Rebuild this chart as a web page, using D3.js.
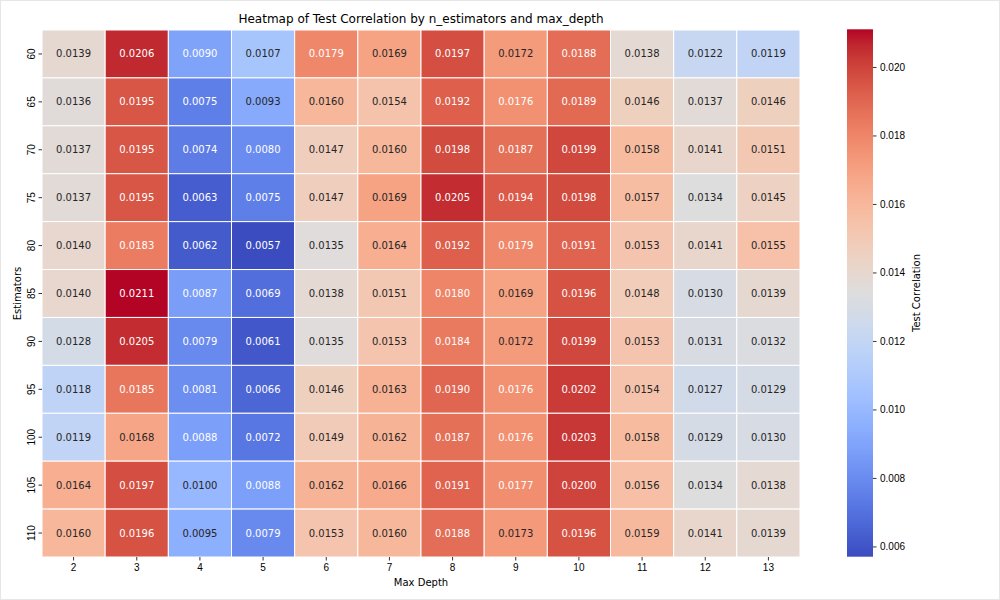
<!DOCTYPE html>
<html>
<head>
<meta charset="utf-8">
<script src="https://cdn.jsdelivr.net/npm/d3@7"></script>
<style>
  body { margin: 0; background: #fff; }
  svg { font-family: "DejaVu Sans", sans-serif; }
</style>
</head>
<body>
<svg id="chart" width="1000" height="600"></svg>
<script>
const depths = [2, 3, 4, 5, 6, 7, 8, 9, 10, 11, 12, 13];
const estimators = [60, 65, 70, 75, 80, 85, 90, 95, 100, 105, 110];
const values = [
    [0.0139, 0.0206, 0.0090, 0.0107, 0.0179, 0.0169, 0.0197, 0.0172, 0.0188, 0.0138, 0.0122, 0.0119],
    [0.0136, 0.0195, 0.0075, 0.0093, 0.0160, 0.0154, 0.0192, 0.0176, 0.0189, 0.0146, 0.0137, 0.0146],
    [0.0137, 0.0195, 0.0074, 0.0080, 0.0147, 0.0160, 0.0198, 0.0187, 0.0199, 0.0158, 0.0141, 0.0151],
    [0.0137, 0.0195, 0.0063, 0.0075, 0.0147, 0.0169, 0.0205, 0.0194, 0.0198, 0.0157, 0.0134, 0.0145],
    [0.0140, 0.0183, 0.0062, 0.0057, 0.0135, 0.0164, 0.0192, 0.0179, 0.0191, 0.0153, 0.0141, 0.0155],
    [0.0140, 0.0211, 0.0087, 0.0069, 0.0138, 0.0151, 0.0180, 0.0169, 0.0196, 0.0148, 0.0130, 0.0139],
    [0.0128, 0.0205, 0.0079, 0.0061, 0.0135, 0.0153, 0.0184, 0.0172, 0.0199, 0.0153, 0.0131, 0.0132],
    [0.0118, 0.0185, 0.0081, 0.0066, 0.0146, 0.0163, 0.0190, 0.0176, 0.0202, 0.0154, 0.0127, 0.0129],
    [0.0119, 0.0168, 0.0088, 0.0072, 0.0149, 0.0162, 0.0187, 0.0176, 0.0203, 0.0158, 0.0129, 0.0130],
    [0.0164, 0.0197, 0.0100, 0.0088, 0.0162, 0.0166, 0.0191, 0.0177, 0.0200, 0.0156, 0.0134, 0.0138],
    [0.0160, 0.0196, 0.0095, 0.0079, 0.0153, 0.0160, 0.0188, 0.0173, 0.0196, 0.0159, 0.0141, 0.0139]
];
const cbarTicks = [0.006, 0.008, 0.010, 0.012, 0.014, 0.016, 0.018, 0.020];

// matplotlib coolwarm, 33 evenly spaced samples
const coolwarm = [
    "#3b4cc0", "#445acc", "#4d68d7", "#5775e1", "#6282ea", "#6c8ef1", "#779af7", "#82a5fb",
    "#8db0fe", "#98b9ff", "#a3c2fe", "#aec9fc", "#b8d0f9", "#c2d5f4", "#ccd9ee", "#d5dbe5",
    "#dddddd", "#e5d8d1", "#ecd3c5", "#f1ccb9", "#f5c4ad", "#f7bba0", "#f7b194", "#f7a688",
    "#f49a7b", "#f18d6f", "#ec7f63", "#e57058", "#de614d", "#d55042", "#cb3e38", "#c0282f",
    "#b40426"
];

const svg = d3.select("#chart");
const plotLeft = 42, plotRight = 800, plotTop = 30, plotBottom = 557;

const cells = [];
values.forEach((row, i) => row.forEach((v, j) => cells.push({ est: estimators[i], depth: depths[j], v })));

const ext = d3.extent(cells, d => d.v);
const t = d3.scaleLinear().domain(ext).range([0, 1]);
const colorAt = d3.scaleLinear()
    .domain(coolwarm.map((c, i) => i / (coolwarm.length - 1)))
    .range(coolwarm)
    .interpolate(d3.interpolateRgb)
    .clamp(true);
const color = v => colorAt(t(v));

const x = d3.scaleBand().domain(depths).range([plotLeft, plotRight]);
const y = d3.scaleBand().domain(estimators).range([plotTop, plotBottom]);

function luminance(c) {
    const rgb = d3.rgb(c);
    const lin = [rgb.r, rgb.g, rgb.b].map(u => {
        u /= 255;
        return u <= 0.03928 ? u / 12.92 : Math.pow((u + 0.055) / 1.055, 2.4);
    });
    return 0.2126 * lin[0] + 0.7152 * lin[1] + 0.0722 * lin[2];
}

// frame
svg.append("rect")
    .attr("x", 0.5).attr("y", 0.5).attr("width", 999).attr("height", 599)
    .attr("fill", "none").attr("stroke", "#e6e6e6");

svg.selectAll(".cell")
    .data(cells)
    .enter().append("rect")
    .attr("class", "cell")
    .attr("x", d => x(d.depth))
    .attr("y", d => y(d.est))
    .attr("width", x.bandwidth())
    .attr("height", y.bandwidth())
    .attr("fill", d => color(d.v))
    .attr("stroke", "white")
    .attr("stroke-width", 1);

svg.selectAll(".annot")
    .data(cells)
    .enter().append("text")
    .attr("class", "annot")
    .attr("x", d => x(d.depth) + x.bandwidth() / 2)
    .attr("y", d => y(d.est) + y.bandwidth() / 2)
    .attr("dy", "0.35em")
    .attr("text-anchor", "middle")
    .style("font-size", "10px")
    .attr("fill", d => luminance(color(d.v)) > 0.408 ? "#262626" : "#ffffff")
    .text(d => d.v.toFixed(4));

// axes
const xAxis = svg.append("g")
    .attr("transform", `translate(0,${plotBottom})`)
    .call(d3.axisBottom(x).tickSize(3.5).tickPadding(3.5));
xAxis.select(".domain").remove();

const yAxis = svg.append("g")
    .attr("transform", `translate(${plotLeft},0)`)
    .call(d3.axisLeft(y).tickSize(3.5).tickPadding(3.5));
yAxis.select(".domain").remove();
yAxis.selectAll("text")
    .attr("text-anchor", "middle")
    .attr("x", 0).attr("y", 0).attr("dy", "0.35em")
    .attr("transform", "translate(-10.5,0) rotate(-90)");

[xAxis, yAxis].forEach(a => {
    a.selectAll("text").style("font-size", "10px").attr("fill", "#000");
    a.selectAll("line").attr("stroke", "#000").attr("stroke-width", 0.8);
});

svg.append("text")
    .attr("x", (plotLeft + plotRight) / 2).attr("y", 23)
    .attr("text-anchor", "middle")
    .style("font-size", "12px")
    .text("Heatmap of Test Correlation by n_estimators and max_depth");

svg.append("text")
    .attr("x", (plotLeft + plotRight) / 2).attr("y", 586)
    .attr("text-anchor", "middle")
    .style("font-size", "10px")
    .text("Max Depth");

svg.append("text")
    .attr("transform", `translate(21,${(plotTop + plotBottom) / 2}) rotate(-90)`)
    .attr("text-anchor", "middle")
    .style("font-size", "10px")
    .text("Estimators");

// colorbar
const cbX = 847, cbW = 26, cbTop = 29.3, cbBottom = 556.7;
const cy = d3.scaleLinear().domain(ext).range([cbBottom, cbTop]);

const grad = svg.append("defs").append("linearGradient")
    .attr("id", "cbgrad")
    .attr("x1", 0).attr("y1", 1).attr("x2", 0).attr("y2", 0);
coolwarm.forEach((c, i) => {
    grad.append("stop")
        .attr("offset", i / (coolwarm.length - 1))
        .attr("stop-color", c);
});

svg.append("rect")
    .attr("x", cbX).attr("y", cbTop)
    .attr("width", cbW).attr("height", cbBottom - cbTop)
    .attr("fill", "url(#cbgrad)");

const cAxis = svg.append("g")
    .attr("transform", `translate(${cbX + cbW},0)`)
    .call(d3.axisRight(cy).tickValues(cbarTicks).tickFormat(d3.format(".3f")).tickSize(3.5).tickPadding(3.5));
cAxis.select(".domain").remove();
cAxis.selectAll("text").style("font-size", "10px").attr("fill", "#000");
cAxis.selectAll("line").attr("stroke", "#000").attr("stroke-width", 0.8);

svg.append("text")
    .attr("transform", `translate(920,${(cbTop + cbBottom) / 2}) rotate(-90)`)
    .attr("text-anchor", "middle")
    .style("font-size", "10px")
    .text("Test Correlation");
</script>
</body>
</html>
